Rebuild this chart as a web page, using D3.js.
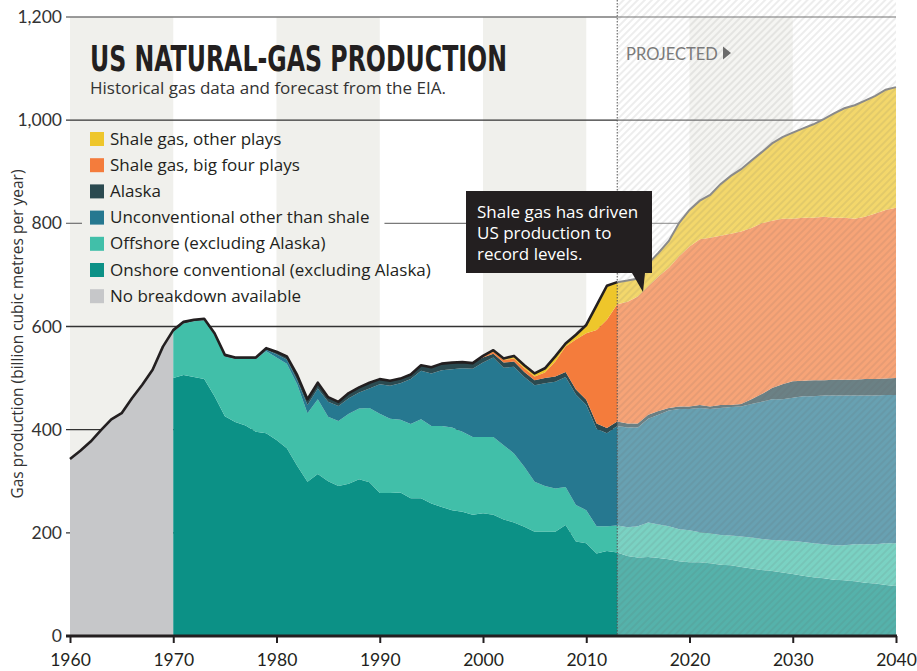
<!DOCTYPE html>
<html>
<head>
<meta charset="utf-8">
<script src="https://cdn.jsdelivr.net/npm/d3@7"></script>
<style>
	body { margin: 0; background: #fff; }
	svg { display: block; font-family: 'Open Sans', Lato, sans-serif; }
</style>
</head>
<body>
<svg></svg>
<script>

// years with no breakdown, total only
const earlyYears = [1960, 1961, 1962, 1963, 1964, 1965, 1966, 1967, 1968, 1969, 1970]
const noBreakdown = [343, 359, 377, 399, 420, 432, 461, 487, 516, 561, 593]

// 1970 .. 2040, billion cubic metres per year
const years = d3.range(1970, 2041)
const onshore = [
	500, 506, 502, 498, 465, 426, 415, 408, 396, 393,
	380, 364, 330, 299, 314, 300, 291, 295, 304, 298,
	277, 277, 278, 267, 267, 257, 250, 244, 241, 235,
	238, 235, 226, 220, 212, 202, 202, 202, 215, 183,
	180, 160, 165, 162, 155, 152, 153, 151, 149, 145,
	143, 143, 141, 138, 137, 134, 131, 128, 126, 123,
	120, 117, 114, 112, 109, 108, 106, 103, 102, 99,
	97]
const offshore = [
	90, 100, 108, 114, 119, 116, 122, 129, 141, 159,
	160, 164, 158, 133, 145, 125, 126, 136, 137, 144,
	154, 144, 141, 144, 153, 150, 157, 160, 155, 151,
	148, 151, 144, 134, 116, 97, 89, 84, 74, 71,
	64, 53, 48, 52, 56, 61, 67, 65, 64, 62,
	62, 58, 58, 58, 58, 59, 60, 60, 60, 62,
	64, 65, 66, 66, 67, 68, 72, 75, 76, 81,
	83]
const unconventional = [
	0, 0, 0, 0, 0, 0, 0, 0, 0, 3,
	6, 8, 8, 16, 21, 29, 29, 30, 31, 38,
	57, 64, 71, 87, 94, 102, 108, 113, 123, 132,
	144, 154, 150, 168, 174, 187, 199, 207, 213, 214,
	204, 189, 180, 193, 193, 191, 201, 213, 224, 233,
	235, 241, 241, 246, 249, 252, 259, 266, 273, 274,
	278, 283, 285, 288, 290, 290, 288, 288, 288, 287,
	287]
const alaska = [
	3, 3, 3, 3, 3, 3, 3, 3, 3, 3,
	5, 6, 10, 11, 11, 9, 8, 10, 10, 11,
	10, 10, 9, 9, 11, 12, 13, 13, 12, 11,
	10, 7, 10, 10, 10, 10, 10, 10, 10, 10,
	10, 10, 10, 9, 8, 8, 8, 7, 5, 5,
	5, 6, 5, 6, 4, 5, 9, 15, 22, 29,
	32, 30, 31, 30, 31, 31, 31, 32, 32, 32,
	33]
const shaleBigFour = [
	0, 0, 0, 0, 0, 0, 0, 0, 0, 0,
	0, 0, 0, 0, 0, 0, 0, 0, 0, 0,
	0, 0, 0, 0, 0, 0, 0, 0, 0, 0,
	2, 4, 5, 6, 7, 7, 11, 29, 49, 97,
	129, 181, 210, 227, 236, 246, 249, 261, 272, 291,
	310, 321, 327, 328, 332, 334, 332, 331, 324, 321,
	315, 316, 315, 317, 314, 314, 312, 315, 321, 327,
	330]
const shaleOther = [
	0, 0, 0, 0, 0, 0, 0, 0, 0, 0,
	0, 0, 0, 0, 0, 0, 0, 0, 0, 0,
	0, 0, 0, 0, 0, 0, 0, 0, 0, 0,
	1, 3, 3, 5, 6, 6, 8, 10, 6, 9,
	16, 48, 66, 43, 41, 35, 44, 46, 52, 65,
	71, 75, 83, 100, 112, 121, 131, 138, 150, 158,
	167, 173, 181, 189, 202, 212, 220, 225, 228, 233,
	234]

const projectedFrom = 2013
const yTicks = [0, 200, 400, 600, 800, 1000, 1200]
const xTicks = [1960, 1970, 1980, 1990, 2000, 2010, 2020, 2030, 2040]
const shadedDecades = [[1960, 1970], [1980, 1990], [2000, 2010], [2020, 2030]]

const seriesKeys = ['onshore', 'offshore', 'unconventional', 'alaska', 'bigFour', 'other']
const legendItems = [
	['other', 'Shale gas, other plays', '#eec62b'],
	['bigFour', 'Shale gas, big four plays', '#f47c3c'],
	['alaska', 'Alaska', '#2b4a50'],
	['unconventional', 'Unconventional other than shale', '#267890'],
	['offshore', 'Offshore (excluding Alaska)', '#41bfa9'],
	['onshore', 'Onshore conventional (excluding Alaska)', '#0c9186'],
	['none', 'No breakdown available', '#c6c7c9']
]
const colour = Object.fromEntries(legendItems.map(d => [d[0], d[2]]))

let width = 917, height = 671

let table = years.map((yr, i) => ({
	year: yr,
	onshore: onshore[i],
	offshore: offshore[i],
	unconventional: unconventional[i],
	alaska: alaska[i],
	bigFour: shaleBigFour[i],
	other: shaleOther[i]
}))

let stacked = d3.stack().keys(seriesKeys)(table)

let totals = earlyYears.slice(0, -1).map((yr, i) => [yr, noBreakdown[i]])
	.concat(table.map(d => [d.year, d3.sum(seriesKeys, k => d[k])]))

let scX = d3.scaleLinear().domain([1960, 2040]).range([70, 896])
let scY = d3.scaleLinear().domain([0, 1200]).range([636, 17])

let svg = d3.select('svg').attr('width', width).attr('height', height)

// hatch for the projection
let pat = svg.append('defs').append('pattern')
	.attr('id', 'hatch')
	.attr('patternUnits', 'userSpaceOnUse')
	.attr('width', 5).attr('height', 5)
	.attr('patternTransform', 'rotate(45)')
pat.append('rect').attr('width', 5).attr('height', 5).attr('fill', 'rgba(255,255,255,0.3)')
pat.append('line')
	.attr('x1', 1).attr('x2', 1).attr('y1', 0).attr('y2', 5)
	.attr('stroke', 'rgba(90,90,90,0.14)').attr('stroke-width', 1.6)

// decade bands
svg.append('g').selectAll('rect')
	.data(shadedDecades).enter().append('rect')
	.attr('x', d => scX(d[0]))
	.attr('width', d => scX(d[1]) - scX(d[0]))
	.attr('y', scY(1200))
	.attr('height', scY(0) - scY(1200))
	.attr('fill', '#f0f0ec')

let grid = svg.append('g')

// no-breakdown area
let earlyData = earlyYears.map((yr, i) => [yr, noBreakdown[i]])
svg.append('path')
	.attr('fill', colour.none)
	.attr('d', d3.area().x(d => scX(d[0])).y0(scY(0)).y1(d => scY(d[1]))(earlyData))

// stacked areas
let areaMkr = d3.area()
	.x(d => scX(d.data.year))
	.y0(d => scY(d[0]))
	.y1(d => scY(d[1]))

svg.append('g').selectAll('path')
	.data(stacked).enter().append('path')
	.attr('fill', d => colour[d.key])
	.attr('d', areaMkr)

// projection wash
svg.append('rect')
	.attr('x', scX(projectedFrom)).attr('y', 0)
	.attr('width', scX(2040) - scX(projectedFrom))
	.attr('height', scY(0))
	.attr('fill', 'url(#hatch)')

// total outline
let lineMkr = d3.line().x(d => scX(d[0])).y(d => scY(d[1]))
svg.append('path')
	.attr('fill', 'none').attr('stroke', '#231f20').attr('stroke-width', 2.6)
	.attr('stroke-linejoin', 'round')
	.attr('d', lineMkr(totals.filter(d => d[0] <= projectedFrom)))
svg.append('path')
	.attr('fill', 'none').attr('stroke', '#8a8a8a').attr('stroke-width', 2)
	.attr('d', lineMkr(totals.filter(d => d[0] >= projectedFrom)))

svg.append('line')
	.attr('x1', scX(projectedFrom)).attr('x2', scX(projectedFrom))
	.attr('y1', 0).attr('y2', scY(0))
	.attr('stroke', '#555').attr('stroke-width', 1)
	.attr('stroke-dasharray', '1.5 1.5')

// axes
let xAxis = d3.axisBottom(scX).tickValues(xTicks).tickFormat(d3.format('d')).tickSize(7).tickPadding(11)
let gx = svg.append('g').attr('transform', `translate(0, ${scY(0)})`).call(xAxis)
gx.select('.domain').remove()
gx.selectAll('line').attr('stroke', '#231f20').attr('stroke-width', 2)
gx.selectAll('text').attr('font-size', 17.5).attr('fill', '#231f20').attr('font-family', 'Lato, sans-serif')
svg.append('line')
	.attr('x1', 66).attr('x2', 897)
	.attr('y1', scY(0)).attr('y2', scY(0))
	.attr('stroke', '#231f20').attr('stroke-width', 3)

let yAxis = d3.axisLeft(scY).tickValues(yTicks).tickFormat(d3.format(',')).tickSize(0).tickPadding(0)
let gy = svg.append('g').attr('transform', 'translate(62, 0)').call(yAxis)
gy.select('.domain').remove()
gy.selectAll('text').attr('font-size', 17.5).attr('fill', '#333').attr('font-family', 'Lato, sans-serif')

svg.append('text')
	.attr('transform', 'translate(23, 334) rotate(-90)')
	.attr('text-anchor', 'middle')
	.attr('font-size', 15.5).attr('fill', '#333')
	.text('Gas production (billion cubic metres per year)')

// legend
let legendRows = svg.append('g').selectAll('g')
	.data(legendItems).enter().append('g')
	.attr('transform', (d, i) => `translate(90, ${132 + i * 26.2})`)
legendRows.append('rect').attr('width', 14).attr('height', 14).attr('fill', d => d[2])
legendRows.append('text')
	.attr('x', 20).attr('y', 12.5)
	.attr('font-size', 17).attr('fill', '#231f20')
	.text(d => d[1])

// gridlines, the 800 one breaks around the legend text
let gapEnd = 110 + legendRows.filter(d => d[0] == 'unconventional').select('text').node().getComputedTextLength() + 15
yTicks.filter(v => v > 0).forEach(v => {
	let col = (v == 1200 || v == 800) ? '#7a7a7a' : '#333'
	let pieces = v == 800 ? [[66, 82], [gapEnd, 896]] : [[66, 896]]
	pieces.forEach(p => {
		grid.append('line')
		.attr('x1', p[0]).attr('x2', p[1])
		.attr('y1', scY(v)).attr('y2', scY(v))
		.attr('stroke', col).attr('stroke-width', 1.3)
	})
})

// titles
svg.append('text')
	.attr('x', 90).attr('y', 71)
	.attr('font-family', "'Liberation Sans Narrow', 'DejaVu Sans Condensed', sans-serif")
	.attr('font-weight', 'bold').attr('font-size', 36)
	.attr('textLength', 417).attr('lengthAdjust', 'spacingAndGlyphs')
	.attr('fill', '#231f20')
	.text('US NATURAL-GAS PRODUCTION')

svg.append('text')
	.attr('x', 90).attr('y', 94)
	.attr('font-size', 17).attr('fill', '#333')
	.text('Historical gas data and forecast from the EIA.')

svg.append('text')
	.attr('x', 626).attr('y', 59.5)
	.attr('font-family', 'Lato, sans-serif')
	.attr('font-size', 16.5).attr('fill', '#7a7a7a')
	.text('PROJECTED')
svg.append('path').attr('d', 'M723,46.5 L731,53 L723,59.5 Z').attr('fill', '#6a6a6a')

// annotation
let note = svg.append('g')
note.append('path')
	.attr('d', 'M466,191 H652 V273 H645 L643,292 L632,273 H466 Z')
	.attr('fill', '#231f20')
note.selectAll('text')
	.data(['Shale gas has driven', 'US production to', 'record levels.'])
	.enter().append('text')
	.attr('x', 477).attr('y', (d, i) => 218 + i * 21)
	.attr('font-size', 17).attr('fill', '#fff')
	.text(d => d)

</script>
